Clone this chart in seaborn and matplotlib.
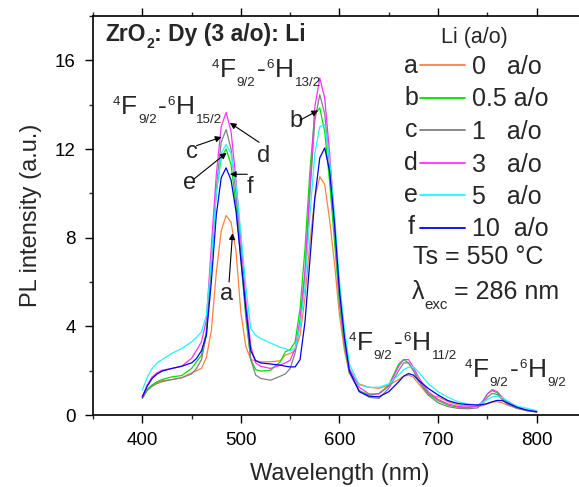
import numpy as np
import pandas as pd
import matplotlib
matplotlib.use("Agg")
import matplotlib.pyplot as plt
from matplotlib.lines import Line2D
from matplotlib.ticker import MultipleLocator
import seaborn as sns

# ---------------- data ----------------
wavelength = [400, 405, 410, 415, 420, 430, 440, 450, 455, 460, 465, 470, 475, 480, 485,
              490, 495, 500, 505, 510, 515, 520, 530, 540, 545, 550, 555, 560, 565, 570,
              575, 580, 585, 590, 595, 600, 605, 610, 620, 630, 640, 650, 660, 665, 670,
              675, 680, 690, 700, 710, 720, 730, 740, 745, 750, 755, 760, 765, 770, 780,
              790, 800]

li_0 = [0.78, 1.15, 1.35, 1.47, 1.55, 1.60, 1.68, 1.90, 2.00, 2.10, 2.60, 3.80, 6.40, 8.30, 9.00,
        8.70, 7.40, 4.60, 3.10, 2.50, 2.45, 2.40, 2.40, 2.45, 2.70, 2.78, 2.90, 3.60, 5.30, 7.80,
        9.80, 10.75, 10.40, 8.80, 6.80, 4.50, 2.90, 1.90, 1.40, 1.25, 1.20, 1.35, 1.60, 1.75, 1.80,
        1.70, 1.42, 0.90, 0.82, 0.60, 0.45, 0.40, 0.38, 0.42, 0.50, 0.58, 0.60, 0.55, 0.45, 0.30,
        0.20, 0.14]

li_05 = [0.75, 1.15, 1.35, 1.50, 1.60, 1.72, 1.78, 2.10, 2.40, 2.70, 3.80, 7.00, 10.00, 11.60, 12.00,
         11.30, 9.50, 7.00, 4.40, 2.50, 2.05, 1.98, 2.02, 2.40, 2.85, 2.95, 3.30, 4.80, 7.50, 11.00,
         13.60, 13.85, 12.80, 10.50, 7.80, 5.00, 3.20, 1.90, 1.10, 0.90, 0.97, 1.35, 2.30, 2.50, 2.35,
         2.00, 1.60, 0.97, 0.65, 0.45, 0.35, 0.33, 0.40, 0.60, 0.95, 1.10, 1.00, 0.75, 0.55, 0.32,
         0.20, 0.14]

li_1 = [0.75, 1.10, 1.30, 1.42, 1.50, 1.60, 1.68, 1.85, 2.10, 2.50, 3.60, 7.00, 10.20, 12.30, 12.88,
        12.00, 10.00, 7.30, 4.60, 2.50, 1.80, 1.65, 1.57, 1.75, 1.85, 2.10, 2.80, 4.10, 6.30, 10.00,
        13.30, 14.45, 13.60, 11.20, 8.30, 5.20, 3.20, 1.90, 1.10, 0.80, 0.75, 1.20, 2.00, 2.35, 2.35,
        2.00, 1.55, 0.90, 0.55, 0.38, 0.30, 0.28, 0.32, 0.50, 0.80, 0.98, 0.92, 0.70, 0.50, 0.30,
        0.20, 0.13]

li_3 = [0.82, 1.35, 1.72, 1.90, 2.02, 2.10, 2.20, 2.56, 2.92, 3.30, 4.30, 7.60, 10.80, 13.00, 13.65,
        12.80, 10.60, 7.90, 5.20, 3.10, 2.35, 2.20, 2.10, 2.25, 2.35, 2.47, 3.00, 4.30, 6.50, 10.30,
        13.90, 15.20, 14.30, 11.80, 8.80, 5.60, 3.50, 2.10, 1.25, 0.95, 0.95, 1.30, 2.20, 2.50, 2.50,
        2.15, 1.72, 1.05, 0.70, 0.50, 0.38, 0.35, 0.40, 0.60, 0.95, 1.15, 1.05, 0.80, 0.60, 0.35,
        0.22, 0.15]

li_5 = [1.12, 1.70, 2.10, 2.35, 2.50, 2.78, 3.00, 3.30, 3.50, 3.75, 4.50, 7.00, 10.00, 11.80, 12.20,
        11.80, 10.40, 8.20, 5.80, 3.90, 3.60, 3.45, 3.25, 3.05, 3.00, 2.90, 3.00, 4.00, 5.80, 9.00,
        11.80, 13.00, 13.10, 11.50, 9.00, 6.00, 3.90, 2.30, 1.35, 1.25, 1.25, 1.40, 1.80, 2.05, 2.15,
        2.17, 1.95, 1.42, 1.05, 0.80, 0.60, 0.50, 0.45, 0.55, 0.70, 0.82, 0.85, 0.78, 0.65, 0.40,
        0.30, 0.20]

li_10 = [0.82, 1.30, 1.65, 1.85, 1.98, 2.10, 2.20, 2.35, 2.55, 2.90, 3.60, 6.00, 9.00, 10.70, 11.15,
         10.60, 9.20, 7.00, 4.80, 2.90, 2.45, 2.35, 2.30, 2.25, 2.20, 2.17, 2.17, 2.50, 4.20, 7.00,
         9.80, 11.60, 12.05, 11.00, 8.60, 5.60, 3.50, 2.00, 1.05, 0.85, 0.82, 1.05, 1.50, 1.75, 1.87,
         1.80, 1.57, 1.20, 0.90, 0.65, 0.52, 0.47, 0.45, 0.47, 0.52, 0.60, 0.66, 0.65, 0.55, 0.35,
         0.22, 0.15]

letters = ["a", "b", "c", "d", "e", "f"]
series_labels = ["0   a/o", "0.5 a/o", "1   a/o", "3   a/o", "5   a/o", "10  a/o"]
series_values = [li_0, li_05, li_1, li_3, li_5, li_10]
colors = ["#FF8040", "#00E000", "#808080", "#FF30FF", "#20F8F8", "#0000F0"]

frames = []
for lab, vals in zip(series_labels, series_values):
    frames.append(pd.DataFrame({"Wavelength": wavelength, "PL": vals, "Li": lab}))
df = pd.concat(frames, ignore_index=True)

# ---------------- style ----------------
sns.set_style("ticks")
plt.rcParams["font.family"] = ["Liberation Sans", "DejaVu Sans"]

fig = plt.figure(figsize=(5.79, 4.87), dpi=100)
ax = fig.add_axes([93 / 579, (487 - 415) / 487, 493 / 579, (415 - 16) / 487])

sns.lineplot(data=df, x="Wavelength", y="PL", hue="Li", hue_order=series_labels,
             palette=dict(zip(series_labels, colors)), linewidth=0.9, legend=False,
             ax=ax, sort=False)

ax.set_xlim(350, 850)
ax.set_ylim(0, 18)
ax.xaxis.set_minor_locator(MultipleLocator(50))
ax.yaxis.set_major_locator(MultipleLocator(4))
ax.yaxis.set_minor_locator(MultipleLocator(2))
ax.set_xticks([400, 500, 600, 700, 800])
ax.tick_params(axis="both", which="major", direction="out", length=5.5, width=1.0,
               labelsize=13.5, pad=7, color="black", labelcolor="black")
ax.tick_params(axis="both", which="minor", direction="out", length=3, width=1.0)
ax.tick_params(axis="x", which="both", top=True, labeltop=False)
for s in ["left", "bottom", "top", "right"]:
    ax.spines[s].set_linewidth(1.2)
    ax.spines[s].set_color("black")
ax.set_xlabel("Wavelength (nm)", fontsize=17, labelpad=10)
ax.set_ylabel("PL intensity (a.u.)", fontsize=17, labelpad=9)

fig.canvas.draw()
renderer = fig.canvas.get_renderer()


def rich_text(x, y, parts, **kw):
    """parts: list of (text, fontsize, dy_points, gap_points_before)."""
    off = 0.0
    for txt, size, dy, gap in parts:
        off += gap
        t = ax.annotate(txt, xy=(x, y), xytext=(off, dy), textcoords="offset points",
                        fontsize=size, ha="left", va="baseline", **kw)
        w = t.get_window_extent(renderer).width * 72.0 / fig.dpi
        off += w


def transition(x, y, j_low, main=19, script=9.6):
    up, dn = 6.8, -6.5
    rich_text(x, y, [("4", script, up, 0), ("F", main, 0, 0.6), ("9/2", script, dn, 0.6),
                     ("-", main, 0, 0.8), ("6", script, up, 0.8), ("H", main, 0, 0.6),
                     (j_low, script, dn, 0.8)])


# ---------------- annotations ----------------
rich_text(362.2, 16.85, [("ZrO", 16.5, 0, 0), ("2", 10, -4.5, 0.5),
                         (": Dy (3 a/o): Li", 16.5, 0, 0.3)], fontweight="bold")
transition(370.3, 13.57, "15/2")
transition(470.3, 15.24, "13/2")
transition(609.4, 2.92, "11/2")
transition(727.0, 1.71, "9/2")

ax.text(674.3, 6.83, "Ts = 550 °C", fontsize=18)
rich_text(673.0, 5.24, [("λ", 18, 0, 0), ("exc", 10.8, -7, 0.3), ("= 286 nm", 18, 0, 4.5)])

arrow_kw = dict(arrowstyle="-|>", color="black", lw=0.8, mutation_scale=9,
                shrinkA=0, shrinkB=0)
ann = [
    ("a", (491.5, 8.2), (485.0, 5.2), (488.0, 6.0)),
    ("b", (578.3, 13.74), (555.5, 13.0), (560.0, 13.3)),
    ("c", (480.4, 12.54), (450.0, 11.6), (455.0, 12.15)),
    ("d", (488.8, 13.18), (522.6, 11.4), (518.5, 12.3)),
    ("e", (485.5, 11.83), (448.3, 10.2), (452.5, 10.65)),
    ("f", (488.8, 10.86), (509.0, 10.0), (506.5, 10.86)),
]
for lab, tip, txt, start in ann:
    ax.text(txt[0], txt[1], lab, fontsize=17, ha="center", va="baseline")
    ax.annotate("", xy=tip, xytext=start, arrowprops=arrow_kw)

# ---------------- legend ----------------
ax.text((474 - 93) / 493, (415 - 37) / 399, "Li (a/o)", fontsize=15.5,
        transform=ax.transAxes, ha="center", va="center")
handles = [Line2D([], [], color=c, lw=1.3) for c in colors]
leg = ax.legend(handles, series_labels, loc="upper left",
                bbox_to_anchor=((420 - 93) / 493, (415 - 55) / 399), frameon=False,
                fontsize=18, handlelength=1.8, handletextpad=0.3,
                labelspacing=0.34, borderaxespad=0, borderpad=0)
for i, lab in enumerate(letters):
    ax.text((411 - 93) / 493, (415 - 72.7 - i * 32.3) / 399, lab, fontsize=18,
            transform=ax.transAxes, ha="center", va="baseline")

fig.savefig("out.png", dpi=100)
